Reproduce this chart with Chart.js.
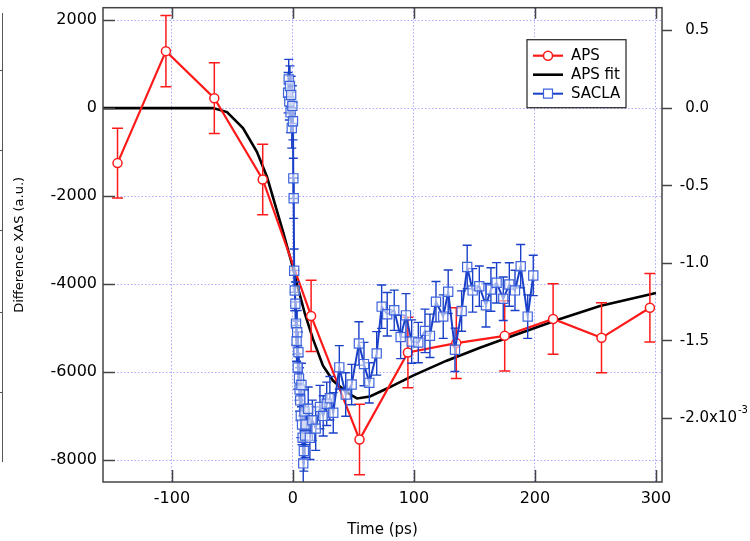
<!DOCTYPE html>
<html>
<head>
<meta charset="utf-8">
<script src="https://cdn.jsdelivr.net/npm/chart.js@4.4.1/dist/chart.umd.min.js"></script>
<style>
html,body{margin:0;padding:0;background:#fff;}
#wrap{position:relative;width:750px;height:541px;overflow:hidden;}
#c{position:absolute;left:0;top:0;}
.edge{position:absolute;left:0;top:13px;width:2px;height:449px;border-right:1.5px solid #555;}
.etick{position:absolute;left:0;width:3px;height:0;border-top:1.5px solid #555;}
</style>
</head>
<body>
<div id="wrap">
  <div class="edge"></div>
  <div class="etick" style="top:70px"></div>
  <div class="etick" style="top:150px"></div>
  <div class="etick" style="top:230px"></div>
  <div class="etick" style="top:312px"></div>
  <div class="etick" style="top:392px"></div>
  <canvas id="c" width="750" height="541"></canvas>
</div>
<script>
// ---------------- data ----------------
const xTicks = [-100, 0, 100, 200, 300];
const yLeftTicks = [-8000, -6000, -4000, -2000, 0, 2000];
const yRightTicks = [-2.0, -1.5, -1.0, -0.5, 0.0, 0.5];

// APS (left axis, a.u.)
const apsTime  = [-145, -105, -65, -25, 15, 55, 95, 135, 175, 215, 255, 295];
const apsValue = [-1249, 1294, 226, -1620, -4721, -7529, -5550, -5338, -5173, -4789, -5218, -4534];
const apsError = [790, 810, 805, 800, 810, 800, 800, 805, 800, 800, 795, 780];

// APS fit (left axis)
const fitTime  = [-157, -66, -54.5, -41.3, -29.8, -21.5, -8.3, -0.8, 3.3, 9.9, 16.5, 24.8, 33.0, 44.6, 52.9, 63.6, 77.7, 99.2, 127.0, 154.5, 181.8, 220.7, 253.7, 300];
const fitValue = [0, 0, -90, -452, -994, -1559, -2801, -3546, -3998, -4676, -5241, -5850, -6189, -6460, -6596, -6551, -6370, -6076, -5737, -5444, -5173, -4789, -4495, -4201];

// SACLA (right axis, x10^-3)
const saclaTime = [-4.0, -3.5, -3.0, -2.5, -2.0, -1.5, -1.0, -0.5, 0.0, 0.3, 0.6,
  1.0, 1.5, 2.0, 2.5, 3.0, 3.5, 4.0, 4.5, 5.0, 5.5, 6.0, 6.5, 7.0, 7.5, 8.0, 8.5, 9.0, 9.5, 10.0, 10.5,
  12.6, 14.0, 16.0, 18.8, 22.3, 25.0, 27.9, 30.5, 33.3, 38.3,
  43.6, 48.5, 54.5, 58.7, 63.1, 69.2, 73.3, 77.9, 83.7, 89.0,
  93.4, 98.1, 103.6, 109.1, 113.2, 118.2, 124.2, 128.3, 133.9, 139.4,
  144.0, 148.5, 154.0, 159.5, 163.6, 168.3, 173.8, 178.8, 183.5, 188.2,
  194.0, 198.6];
const saclaValue = [0.099, 0.184, 0.043, 0.142, -0.028, 0.085, -0.128, 0.014, -0.085, -0.453, -0.581,
  -1.048, -1.176, -1.261, -1.389, -1.502, -1.445, -1.672, -1.573, -1.743, -1.814, -1.884, -1.984, -1.785, -2.040, -2.125, -2.290, -2.210, -1.955, -2.111, -2.040,
  -1.938, -2.125, -2.012, -2.066, -1.927, -1.984, -1.906, -1.870, -1.964, -1.671,
  -1.846, -1.782, -1.517, -1.650, -1.771, -1.581, -1.280, -1.329, -1.303, -1.475,
  -1.336, -1.505, -1.511, -1.436, -1.468, -1.248, -1.344, -1.184, -1.558, -1.308,
  -1.024, -1.175, -1.148, -1.271, -1.169, -1.126, -1.229, -1.137, -1.175, -1.019,
  -1.344, -1.079];
const saclaError = [0.13, 0.13, 0.12, 0.13, 0.13, 0.12, 0.13, 0.13, 0.12, 0.13, 0.13,
  0.14, 0.13, 0.14, 0.14, 0.13, 0.14, 0.14, 0.13, 0.14, 0.14, 0.13, 0.14, 0.14, 0.13, 0.14, 0.14, 0.13, 0.14, 0.14, 0.13,
  0.14, 0.14, 0.13, 0.14, 0.14, 0.13, 0.14, 0.14, 0.13, 0.14,
  0.14, 0.13, 0.14, 0.14, 0.13, 0.14, 0.14, 0.14, 0.13, 0.14,
  0.14, 0.14, 0.13, 0.14, 0.14, 0.13, 0.14, 0.14, 0.14, 0.13,
  0.14, 0.14, 0.13, 0.14, 0.14, 0.13, 0.14, 0.14, 0.13, 0.14,
  0.14, 0.13];

const seriesLabels = ['APS', 'APS fit', 'SACLA'];
const xTitle = 'Time (ps)';
const yTitle = 'Difference XAS (a.u.)';
const rightExponent = ['x10', '-3'];

// ---------------- helpers ----------------
const toXY = (xs, ys) => xs.map((x, i) => ({x: x, y: ys[i]}));
const FONT = 'DejaVu Sans';
Chart.defaults.font.family = FONT;
Chart.defaults.color = '#000';

const GRID_COLOR = 'rgba(110,110,255,0.6)';
const FRAME = '#444';

// error bars drawn under each dataset's markers
const errorBarPlugin = {
  id: 'errorBars',
  beforeDatasetDraw(chart, args) {
    const ds = chart.data.datasets[args.index];
    if (!ds.errors) return;
    const meta = args.meta;
    const xs = chart.scales[meta.xAxisID], ys = chart.scales[meta.yAxisID];
    const a = chart.chartArea, ctx = chart.ctx;
    ctx.save();
    ctx.beginPath();
    ctx.rect(a.left, a.top, a.right - a.left, a.bottom - a.top);
    ctx.clip();
    ctx.strokeStyle = ds.errorColor;
    ctx.lineWidth = ds.errorWidth;
    ctx.beginPath();
    ds.data.forEach((p, i) => {
      const e = ds.errors[i];
      const x = xs.getPixelForValue(p.x);
      const y1 = ys.getPixelForValue(p.y + e);
      const y2 = ys.getPixelForValue(p.y - e);
      const c = ds.capHalf;
      ctx.moveTo(x, y1); ctx.lineTo(x, y2);
      ctx.moveTo(x - c, y1); ctx.lineTo(x + c, y1);
      ctx.moveTo(x - c, y2); ctx.lineTo(x + c, y2);
    });
    ctx.stroke();
    ctx.restore();
  }
};

// frame with inward ticks
const framePlugin = {
  id: 'frame',
  afterDatasetsDraw(chart) {
    const {ctx, chartArea: a, scales} = chart;
    ctx.save();
    ctx.strokeStyle = FRAME;
    ctx.lineWidth = 1.5;
    ctx.strokeRect(a.left, a.top, a.right - a.left, a.bottom - a.top);
    ctx.beginPath();
    scales.y.ticks.forEach(t => {
      const p = Math.round(scales.y.getPixelForValue(t.value)) + 0.5;
      ctx.moveTo(a.left, p); ctx.lineTo(a.left + 12, p);
    });
    scales.x.ticks.forEach(t => {
      const p = Math.round(scales.x.getPixelForValue(t.value)) + 0.5;
      ctx.moveTo(p, a.bottom); ctx.lineTo(p, a.bottom - 12);
      ctx.moveTo(p, a.top); ctx.lineTo(p, a.top + 11);
    });
    ctx.stroke();
    ctx.restore();
  }
};

// exponent suffix on right axis + legend box
const overlayPlugin = {
  id: 'overlay',
  afterDraw(chart) {
    const {ctx, chartArea: a, scales} = chart;
    const y2 = scales.y2;
    const lowest = y2.ticks[0];
    if (lowest) {
      const py = y2.getPixelForValue(lowest.value);
      ctx.save();
      ctx.fillStyle = '#000';
      ctx.textBaseline = 'middle';
      ctx.textAlign = 'left';
      ctx.font = '15px "' + FONT + '"';
      const xx = y2.right;
      ctx.fillText(rightExponent[0], xx, py);
      const w = ctx.measureText(rightExponent[0]).width;
      ctx.font = '10px "' + FONT + '"';
      ctx.fillText(rightExponent[1], xx + w + 1, py - 8);
      ctx.restore();
    }
    // legend
    const bx = a.right - 135, by = a.top + 32, bw = 99, bh = 68;
    ctx.save();
    ctx.fillStyle = '#fff';
    ctx.fillRect(bx, by, bw, bh);
    ctx.strokeStyle = '#333';
    ctx.lineWidth = 1.3;
    ctx.strokeRect(bx, by, bw, bh);
    ctx.font = '15px "' + FONT + '"';
    ctx.textBaseline = 'middle';
    ctx.textAlign = 'left';
    chart.data.datasets.forEach((ds, i) => {
      const ry = by + 16 + i * 19;
      const lx0 = bx + 6, lx1 = bx + 36, mx = bx + 21;
      ctx.strokeStyle = ds.borderColor;
      ctx.lineWidth = ds.borderWidth;
      ctx.beginPath(); ctx.moveTo(lx0, ry); ctx.lineTo(lx1, ry); ctx.stroke();
      if (ds.pointRadius > 0) {
        ctx.fillStyle = '#fff';
        ctx.strokeStyle = ds.pointBorderColor;
        ctx.lineWidth = ds.pointBorderWidth;
        ctx.beginPath();
        if (ds.pointStyle === 'rect') {
          ctx.rect(mx - 4.5, ry - 4.5, 9, 9);
        } else {
          ctx.arc(mx, ry, 4.5, 0, Math.PI * 2);
        }
        ctx.fill(); ctx.stroke();
      }
      ctx.fillStyle = '#000';
      ctx.fillText(ds.label, bx + 44, ry + 0.5);
    });
    ctx.restore();
  }
};

const fixV = w => s => { s.width = w; s.paddingTop = 0; s.paddingBottom = 0; };
const fixH = h => s => { s.height = h; s.paddingLeft = 0; s.paddingRight = 0; };

const chart = new Chart(document.getElementById('c'), {
  type: 'line',
  data: {
    datasets: [
      {
        label: seriesLabels[0],
        data: toXY(apsTime, apsValue),
        errors: apsError, errorColor: '#ff1a1a', errorWidth: 1.5, capHalf: 5.5,
        yAxisID: 'y',
        borderColor: '#ff1a1a', borderWidth: 2.2,
        pointStyle: 'circle', pointRadius: 4.5, pointBorderWidth: 1.5,
        pointBorderColor: '#ff1a1a', pointBackgroundColor: '#fff',
        order: 1, tension: 0
      },
      {
        label: seriesLabels[1],
        data: toXY(fitTime, fitValue),
        yAxisID: 'y',
        borderColor: '#000', borderWidth: 2.6,
        pointRadius: 0,
        order: 2, tension: 0
      },
      {
        label: seriesLabels[2],
        data: toXY(saclaTime, saclaValue),
        errors: saclaError, errorColor: '#1a40c8', errorWidth: 1.4, capHalf: 4.5,
        yAxisID: 'y2',
        borderColor: '#1a40c8', borderWidth: 2,
        pointStyle: 'rect', pointRadius: 6.5, pointBorderWidth: 1.2,
        pointBorderColor: '#3d63dc', pointBackgroundColor: 'rgba(255,255,255,0.55)',
        order: 0, tension: 0
      }
    ]
  },
  options: {
    responsive: false,
    animation: false,
    devicePixelRatio: 1,
    layout: {padding: {left: 0, right: 41, top: 5, bottom: 0}},
    plugins: {legend: {display: false}, tooltip: {enabled: false}},
    scales: {
      x: {
        type: 'linear', position: 'bottom',
        min: -157, max: 305,
        afterFit: fixH(59),
        afterBuildTicks: s => { s.ticks = xTicks.map(v => ({value: v})); },
        ticks: {font: {size: 16}, padding: 7, callback: v => String(v), maxRotation: 0},
        grid: {color: GRID_COLOR, lineWidth: 1, drawTicks: false},
        border: {display: false, dash: [1.5, 2]},
        title: {display: true, text: xTitle, font: {size: 15}, padding: {top: 0, bottom: 2}}
      },
      y: {
        type: 'linear', position: 'left',
        min: -8493, max: 2281,
        afterFit: fixV(103),
        afterBuildTicks: s => { s.ticks = yLeftTicks.map(v => ({value: v})); },
        ticks: {font: {size: 16}, padding: 6, callback: v => String(v)},
        grid: {color: GRID_COLOR, lineWidth: 1, drawTicks: false},
        border: {display: false, dash: [1.5, 2]},
        title: {display: true, text: yTitle, font: {size: 13}, padding: {top: 12, bottom: 0}}
      },
      y2: {
        type: 'linear', position: 'right',
        min: -2.410, max: 0.647,
        afterFit: fixV(47),
        afterBuildTicks: s => { s.ticks = yRightTicks.map(v => ({value: v})); },
        ticks: {font: {size: 15}, padding: 6, crossAlign: 'far', callback: v => Number(v).toFixed(1)},
        grid: {drawOnChartArea: false, drawTicks: true, tickLength: 10, tickColor: FRAME, tickWidth: 1.5},
        border: {display: false}
      }
    }
  },
  plugins: [errorBarPlugin, framePlugin, overlayPlugin]
});
</script>
</body>
</html>
